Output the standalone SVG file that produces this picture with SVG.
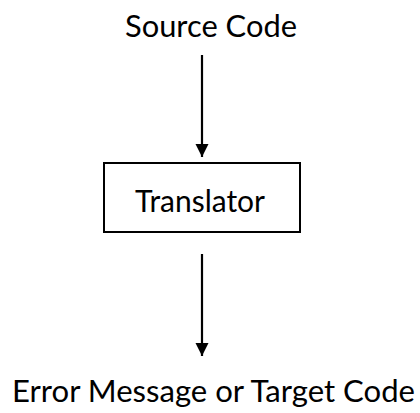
<svg xmlns="http://www.w3.org/2000/svg" width="420" height="413" viewBox="0 0 420 413">
<style>
text{font-family:Lato,"Open Sans",sans-serif;font-size:30px;fill:#000;text-anchor:middle}
.c{stroke:#000;stroke-width:2.2;fill:none}
</style>
<defs><marker id="ah" viewBox="0 0 10 10" refX="10" refY="5" markerWidth="6" markerHeight="6" markerUnits="strokeWidth" orient="auto"><path d="M0,0L10,5L0,10z" fill="#000"/></marker></defs>
<rect width="420" height="413" fill="#fff"/>
<g id="source"><text x="211" y="37" textLength="172" lengthAdjust="spacingAndGlyphs">Source Code</text></g>
<g id="translator"><rect x="104" y="163" width="196" height="69" fill="#fff" stroke="#000" stroke-width="2"/><text x="200" y="212" textLength="130" lengthAdjust="spacingAndGlyphs">Translator</text></g>
<g id="output"><text x="213.5" y="402" textLength="403" lengthAdjust="spacingAndGlyphs">Error Message or Target Code</text></g>
<g id="connectors">
<line class="c" x1="202" y1="55" x2="202" y2="157" marker-end="url(#ah)"/>
<line class="c" x1="202" y1="254" x2="202" y2="356" marker-end="url(#ah)"/>
</g>
</svg>
